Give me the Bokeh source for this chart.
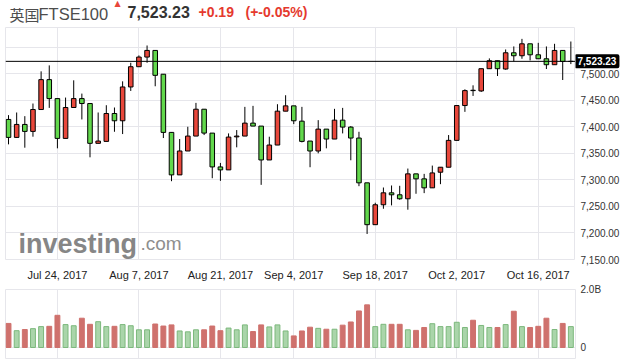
import pandas as pd
from bokeh.plotting import figure
from bokeh.layouts import column, row
from bokeh.models import (Range1d, FixedTicker, Span, Label, ColumnDataSource)
from bokeh.core.properties import value
from bokeh.embed import file_html
from bokeh.resources import INLINE

# ---------------- data ----------------
holidays = ["2017-08-28"]
dates = [d for d in pd.bdate_range("2017-07-14", "2017-10-20")
         if d.strftime("%Y-%m-%d") not in holidays]

opens = [7413.8, 7380.0, 7404.4, 7391.3, 7432.5, 7488.8, 7453.1, 7378.1, 7436.3, 7453.1,
         7443.8, 7368.8, 7372.5, 7425.0, 7411.3, 7475.0, 7513.1, 7531.3, 7543.8, 7499.0,
         7389.4, 7309.4, 7354.4, 7382.5, 7433.1, 7388.1, 7324.4, 7318.8, 7381.0, 7382.5,
         7406.9, 7401.3, 7337.5, 7365.6, 7429.4, 7439.4, 7410.6, 7373.1, 7354.4, 7395.6,
         7376.9, 7412.5, 7399.4, 7378.8, 7294.4, 7215.6, 7253.1, 7275.6, 7271.9, 7264.4,
         7311.3, 7301.9, 7285.0, 7314.4, 7323.8, 7374.4, 7440.0, 7468.8, 7467.5, 7509.4,
         7524.4, 7508.8, 7539.4, 7533.8, 7556.3, 7535.6, 7528.1, 7516.9, 7543.8, 7523.0]
highs = [7421.9, 7426.9, 7420.0, 7443.8, 7504.4, 7515.6, 7453.1, 7455.0, 7487.5, 7462.5,
         7443.8, 7426.9, 7440.6, 7436.3, 7485.6, 7520.6, 7534.4, 7553.1, 7543.8, 7499.0,
         7389.4, 7376.9, 7400.0, 7445.0, 7433.1, 7388.1, 7331.9, 7387.5, 7393.8, 7437.5,
         7439.4, 7401.3, 7381.3, 7442.5, 7459.4, 7439.4, 7437.5, 7373.1, 7412.5, 7395.6,
         7433.8, 7435.6, 7401.3, 7390.6, 7294.4, 7256.9, 7285.6, 7289.4, 7288.8, 7321.3,
         7311.3, 7311.3, 7326.9, 7323.8, 7384.4, 7440.0, 7470.6, 7478.1, 7509.4, 7528.8,
         7524.4, 7545.6, 7551.3, 7565.6, 7556.3, 7558.1, 7551.3, 7556.3, 7543.8, 7560.6]
lows = [7366.9, 7379.0, 7360.6, 7381.3, 7432.5, 7435.6, 7359.4, 7378.1, 7436.3, 7413.8,
        7342.5, 7368.8, 7372.5, 7390.6, 7386.3, 7467.5, 7513.1, 7520.6, 7476.3, 7378.8,
        7297.5, 7309.4, 7354.4, 7382.5, 7384.4, 7303.1, 7298.1, 7318.8, 7361.3, 7382.5,
        7401.3, 7290.6, 7337.5, 7365.6, 7429.4, 7405.0, 7370.6, 7323.8, 7350.0, 7359.4,
        7376.9, 7387.5, 7336.9, 7288.1, 7198.1, 7215.6, 7245.6, 7251.9, 7262.5, 7243.8,
        7273.8, 7275.0, 7285.0, 7291.9, 7323.8, 7374.4, 7428.1, 7458.1, 7465.6, 7509.4,
        7495.6, 7507.5, 7523.1, 7528.1, 7525.0, 7528.1, 7508.8, 7516.9, 7488.1, 7518.1]
closes = [7380.0, 7404.4, 7391.3, 7432.5, 7488.8, 7453.1, 7378.1, 7436.3, 7453.1, 7443.8,
          7368.8, 7373.1, 7425.0, 7411.3, 7475.0, 7513.1, 7531.3, 7543.8, 7496.9, 7389.4,
          7309.4, 7354.4, 7382.5, 7433.1, 7388.1, 7324.4, 7318.8, 7380.6, 7382.5, 7406.9,
          7401.3, 7337.5, 7365.6, 7429.4, 7439.4, 7411.3, 7372.5, 7354.4, 7395.6, 7376.9,
          7412.5, 7399.4, 7378.8, 7294.4, 7215.6, 7253.1, 7275.6, 7271.9, 7264.4, 7311.3,
          7301.9, 7285.0, 7313.1, 7323.8, 7374.4, 7440.0, 7468.1, 7468.1, 7509.4, 7524.4,
          7509.4, 7539.4, 7533.8, 7556.3, 7535.6, 7528.1, 7516.9, 7543.8, 7523.0, 7523.23]
volumes_b = [0.83, 0.58, 0.62, 0.65, 0.72, 0.73, 1.11, 0.79, 0.75, 1.01,
             0.80, 0.89, 0.72, 0.73, 0.79, 0.75, 0.61, 0.61, 0.81, 0.74,
             0.78, 0.57, 0.54, 0.61, 0.61, 0.74, 0.58, 0.67, 0.61, 0.78,
             0.55, 0.78, 0.71, 0.78, 0.57, 0.40, 0.57, 0.70, 0.66, 0.63,
             0.63, 0.77, 0.88, 1.26, 1.47, 0.72, 0.80, 0.80, 0.80, 0.61,
             0.59, 0.69, 0.82, 0.72, 0.72, 0.87, 0.69, 0.94, 0.76, 0.69,
             0.69, 0.79, 1.25, 0.72, 0.69, 0.73, 1.01, 0.62, 0.83, 0.72]

tick_dates = ["2017-07-24", "2017-08-07", "2017-08-21", "2017-09-04",
              "2017-09-18", "2017-10-02", "2017-10-16"]
price_ticks = [7150, 7200, 7250, 7300, 7350, 7400, 7450, 7500]
price_grid = [7150, 7200, 7250, 7300, 7350, 7400, 7450, 7500, 7550]
vol_ticks = [0, 2]
vol_tick_labels = ["0", "2.0B"]

title_name_cjk = "英国"
title_name = "FTSE100"
last_text = "7,523.23"
change_text = "+0.19"
change_pct_text = "(+-0.05%)"

# ---------------- styles / layout ----------------
GRID = "#e6e6eb"
UP = "#e8473b"
DOWN = "#62d84c"
VOL_UP_FILL, VOL_UP_LINE = "#aad5aa", "#7cb87c"
VOL_DN = "#cf716d"
FONT = "Liberation Sans"

TOTAL_W = 620
LEFT = 5            # frame left
FRAME_W = 570       # frame width (to x=575)
RIGHT_W = TOTAL_W - LEFT - FRAME_W
TITLE_H = 27
PRICE_FRAME_H = 232
DATE_H = 22
PRICE_H = PRICE_FRAME_H + DATE_H
VOL_FRAME_H = 70
VOL_TOP = 6

idx = list(range(len(dates)))
date_strs = [d.strftime("%Y-%m-%d") for d in dates]
tick_idx = [date_strs.index(t) for t in tick_dates]
tick_lab = {i: f"{dates[i]:%b} {dates[i].day}, {dates[i].year}" for i in tick_idx}

up = [c >= o for o, c in zip(opens, closes)]
src = ColumnDataSource(dict(
    x=idx, o=opens, h=highs, l=lows, c=closes,
    top=[max(o, c) for o, c in zip(opens, closes)],
    bottom=[min(o, c) for o, c in zip(opens, closes)],
    color=[UP if u else DOWN for u in up],
    vol=volumes_b,
    vfill=[VOL_UP_FILL if u else VOL_DN for u in up],
    vline=[VOL_UP_LINE if u else VOL_DN for u in up],
))

xr = Range1d(-0.37, 69.57)
P_LO, P_HI = 7150, 7587
yr = Range1d(P_LO, P_HI)

common = dict(output_backend="svg", toolbar_location=None, tools="", title=None)

# ---------------- title strip ----------------
pt = figure(frame_width=TOTAL_W, frame_height=TITLE_H, **common,
            x_range=Range1d(0, TOTAL_W), y_range=Range1d(0, TITLE_H),
            x_axis_location=None, y_axis_location=None,
            min_border_left=0, min_border_right=0, min_border_top=0, min_border_bottom=0)
pt.outline_line_color = None
pt.grid.visible = False

def tlabel(x, base, text, font, size, color, style="normal"):
    pt.add_layout(Label(x=x, y=TITLE_H - base, x_units="screen", y_units="screen", text=text,
                        text_font=font, text_font_size=size, text_font_style=style,
                        text_color=color, text_baseline="alphabetic"))

tlabel(4, 13.5, title_name_cjk, "Noto Sans CJK SC", "15px", "#4d4d4d")
tlabel(33, 13.5, title_name, FONT, "16.5px", "#4d4d4d")
tlabel(109, 3, "▲", "DejaVu Sans", "8px", "#e8473b")
tlabel(122, 11, last_text, FONT, "16px", "#333333", "bold")
tlabel(193, 11, change_text, FONT, "14px", "#e5392e", "bold")
tlabel(240, 11, change_pct_text, FONT, "14px", "#e5392e", "bold")

# ---------------- price panel ----------------
p1 = figure(frame_width=FRAME_W, frame_height=PRICE_FRAME_H, **common,
            x_range=xr, y_range=yr,
            x_axis_location="below", y_axis_location=None,
            min_border_left=LEFT, min_border_right=0, min_border_top=0,
            min_border_bottom=DATE_H)
p1.outline_line_color = GRID
p1.background_fill_color = "white"
p1.border_fill_color = "white"

p1.segment(x0="x", y0="l", x1="x", y1="h", source=src, line_color="black", line_width=1)
p1.vbar(x="x", width=0.56, top="top", bottom="bottom", source=src,
        fill_color="color", line_color="black", line_width=1)

p1.ygrid.ticker = FixedTicker(ticks=price_grid)
p1.ygrid.grid_line_color = GRID

xa = p1.xaxis[0]
xa.ticker = FixedTicker(ticks=tick_idx)
xa.major_label_overrides = tick_lab
xa.axis_line_color = None
xa.major_tick_line_color = None
xa.minor_tick_line_color = None
xa.major_tick_out = 0
xa.major_tick_in = 0
xa.minor_tick_out = 0
xa.minor_tick_in = 0
xa.major_label_standoff = 9
xa.major_label_text_font = FONT
xa.major_label_text_font_size = "11px"
xa.major_label_text_color = "#222222"
p1.xgrid.grid_line_color = GRID

p1.add_layout(Span(location=closes[-1], dimension="width", line_color="black", line_width=1))

# watermark
p1.add_layout(Label(x=13, y=16, x_units="screen", y_units="screen", text="investing",
                    text_font=FONT, text_font_size="27px", text_font_style="bold",
                    text_color="#868686", text_baseline="alphabetic", level="underlay"))
p1.add_layout(Label(x=135, y=16, x_units="screen", y_units="screen", text=".com",
                    text_font=FONT, text_font_size="19px",
                    text_color="#8e8e8e", text_baseline="alphabetic", level="underlay"))

# ---------------- price scale strip (right) ----------------
px_per_unit = PRICE_FRAME_H / (P_HI - P_LO)
pr = figure(frame_width=RIGHT_W, frame_height=PRICE_H, **common,
            x_range=Range1d(0, RIGHT_W),
            y_range=Range1d(P_LO - DATE_H / px_per_unit, P_HI),
            x_axis_location=None, y_axis_location=None,
            min_border_left=0, min_border_right=0, min_border_top=0, min_border_bottom=0)
pr.outline_line_color = None
pr.grid.visible = False
pr.text(x=[5] * len(price_ticks), y=price_ticks,
        text=[f"{t:,.2f}" for t in price_ticks],
        text_font=value(FONT), text_font_size=value("10px"), text_color="#333333",
        text_baseline="middle", text_align="left")
pr.add_layout(Label(x=-1, y=closes[-1], x_units="screen", y_units="data", text=last_text,
                    text_font=FONT, text_font_size="10px", text_font_style="bold",
                    text_color="white", text_baseline="middle", text_align="left",
                    background_fill_color="black", padding=3, border_radius=2))

# ---------------- volume panel ----------------
p2 = figure(frame_width=FRAME_W, frame_height=VOL_FRAME_H, **common,
            x_range=xr, y_range=Range1d(-0.414, 2.0),
            x_axis_location=None, y_axis_location="right",
            min_border_left=LEFT, min_border_right=RIGHT_W, min_border_top=VOL_TOP,
            min_border_bottom=0)
p2.outline_line_color = GRID
p2.background_fill_color = "white"
p2.border_fill_color = "white"
p2.vbar(x="x", width=0.6, top="vol", bottom=0, source=src,
        fill_color="vfill", line_color="vline", line_width=1)

va = p2.yaxis[0]
va.ticker = FixedTicker(ticks=vol_ticks)
va.major_label_overrides = {t: s for t, s in zip(vol_ticks, vol_tick_labels)}
va.axis_line_color = None
va.major_tick_line_color = None
va.minor_tick_line_color = None
va.major_tick_out = 0
va.major_tick_in = 0
va.major_label_standoff = 5
va.major_label_text_font = FONT
va.major_label_text_font_size = "10px"
va.major_label_text_color = "#333333"
p2.ygrid.ticker = FixedTicker(ticks=vol_ticks)
p2.ygrid.grid_line_color = GRID
p2.xgrid.ticker = FixedTicker(ticks=tick_idx)
p2.xgrid.grid_line_color = GRID

layout = column(pt, row(p1, pr), p2)
open("out.html", "w").write(file_html(layout, INLINE))
